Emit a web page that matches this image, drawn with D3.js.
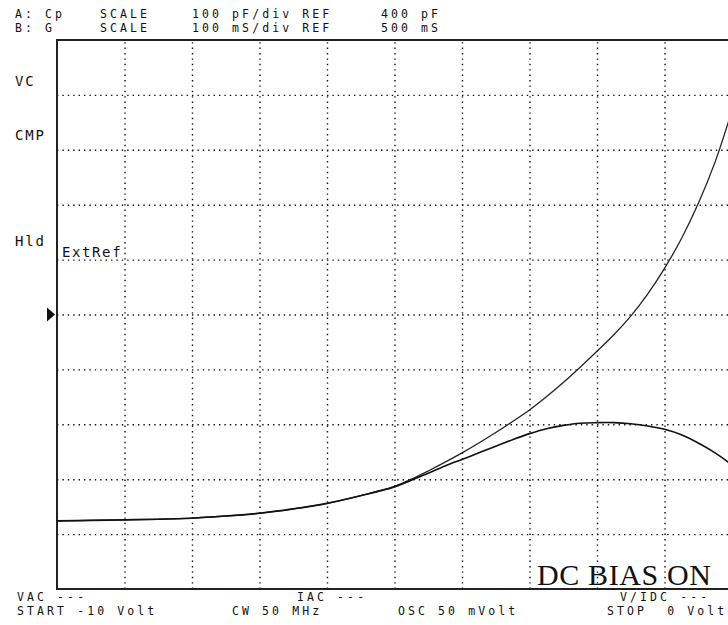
<!DOCTYPE html>
<html>
<head>
<meta charset="utf-8">
<script src="https://cdn.jsdelivr.net/npm/d3@7"></script>
<style>
  html, body { margin: 0; padding: 0; background: #fff; }
  svg { display: block; }
  .mono { font-family: "DejaVu Sans Mono", "Liberation Mono", monospace; font-size: 11.5px; letter-spacing: 3.1px; fill: #111; }
  .grid line { stroke: #111; stroke-width: 1.4; stroke-dasharray: 1.4 4; }
  .grid path { display: none; }
</style>
</head>
<body>
<svg id="chart" width="728" height="625"></svg>
<script>
// ---- data ----
const biasVolt = [-10, -9.5, -9, -8.5, -8, -7.5, -7, -6.5, -6, -5.5, -5, -4.75, -4.5, -4.25, -4, -3.75, -3.5, -3.25, -3, -2.75, -2.5, -2.25, -2, -1.75, -1.5, -1.25, -1, -0.75, -0.5, -0.25, 0];
const cpPF = [24, 25, 26, 27, 29, 33, 38, 46, 56, 70, 87, 100, 115, 131, 148, 166, 185, 205, 226, 250, 276, 304, 333, 363, 397, 437, 484, 538, 602, 678, 772];
const gMS = [124, 125, 126, 127, 129, 133, 138, 146, 156, 170, 186, 198, 211, 224, 236, 248, 260, 272, 283, 292, 298, 302, 303, 303, 301, 297, 291, 281, 266, 248, 226];
const xTicks = [-10, -9, -8, -7, -6, -5, -4, -3, -2, -1, 0];
const cpTicks = [-100, 0, 100, 200, 300, 400, 500, 600, 700, 800, 900];
const headerRows = [
  ["A: Cp", "SCALE", "100 pF/div REF", "400 pF"],
  ["B: G", "SCALE", "100 mS/div REF", "500 mS"]
];
const sideLabels = ["VC", "CMP", "Hld"];
const footerTop = ["VAC ---", "IAC ---", "V/IDC ---"];
const footerBottom = ["START -10 Volt", "CW 50 MHz", "OSC 50 mVolt", "STOP  0 Volt"];

// ---- layout ----
const L = 57, R = 732, T = 40, B = 589;
const svg = d3.select("#chart");
svg.append("rect").attr("width", 728).attr("height", 625).attr("fill", "#fff");

const x = d3.scaleLinear().domain([-10, 0]).range([L, R]);
const yCp = d3.scaleLinear().domain([-100, 900]).range([B, T]);
const yG = d3.scaleLinear().domain([0, 1000]).range([B, T]);

// grid via axes
svg.append("g").attr("class", "grid")
  .attr("transform", `translate(0,${B})`)
  .call(d3.axisBottom(x).tickValues(xTicks.slice(1, -1)).tickSize(-(B - T)).tickFormat(""));
svg.append("g").attr("class", "grid")
  .attr("transform", `translate(${L},0)`)
  .call(d3.axisLeft(yCp).tickValues(cpTicks.slice(1, -1)).tickSize(-(R - L)).tickFormat(""));

// frame
svg.append("path")
  .attr("d", `M${R},${T}H${L}V${B}H${R}`)
  .attr("fill", "none").attr("stroke", "#222").attr("stroke-width", 2);

// curves
const data = biasVolt.map((v, i) => ({ v, cp: cpPF[i], g: gMS[i] }));
const lineCp = d3.line().x(d => x(d.v)).y(d => yCp(d.cp)).curve(d3.curveCatmullRom.alpha(0.5));
const lineG = d3.line().x(d => x(d.v)).y(d => yG(d.g)).curve(d3.curveCatmullRom.alpha(0.5));
svg.append("path").datum(data).attr("d", lineCp)
  .attr("fill", "none").attr("stroke", "#222").attr("stroke-width", 1.3);
svg.append("path").datum(data).attr("d", lineG)
  .attr("fill", "none").attr("stroke", "#111").attr("stroke-width", 1.6);

// reference marker
const yRef = yCp(400);
svg.append("path")
  .attr("d", `M${L - 10},${yRef - 7}L${L - 2},${yRef}L${L - 10},${yRef + 7}Z`)
  .attr("fill", "#111");

// header
const headerX = [15, 100, 192, 381];
headerRows.forEach((row, r) => {
  row.forEach((t, i) => {
    svg.append("text").attr("class", "mono")
      .attr("x", headerX[i]).attr("y", 18 + r * 13.5)
      .attr("xml:space", "preserve").text(t);
  });
});

// side labels
const sideY = [86, 140, 246];
sideLabels.forEach((t, i) => {
  svg.append("text").attr("class", "mono").style("font-size", "14px").style("letter-spacing", "1.8px")
    .attr("x", 15).attr("y", sideY[i]).text(t);
});
svg.append("text").attr("class", "mono").style("font-size", "14px").style("letter-spacing", "1.6px")
  .attr("x", 62).attr("y", 257).text("ExtRef");

// DC BIAS ON
svg.append("text")
  .attr("x", 537).attr("y", 585)
  .attr("textLength", 174).attr("lengthAdjust", "spacing")
  .style("font-family", "'Liberation Serif', 'DejaVu Serif', serif")
  .style("font-size", "30px").attr("fill", "#111")
  .text("DC BIAS ON");

// footer
const footTopX = [17, 297, 620];
footerTop.forEach((t, i) => {
  svg.append("text").attr("class", "mono")
    .attr("x", footTopX[i]).attr("y", 601).text(t);
});
const footBotX = [17, 232, 398, 607];
footerBottom.forEach((t, i) => {
  svg.append("text").attr("class", "mono")
    .attr("x", footBotX[i]).attr("y", 615)
    .attr("xml:space", "preserve").text(t);
});
</script>
</body>
</html>
